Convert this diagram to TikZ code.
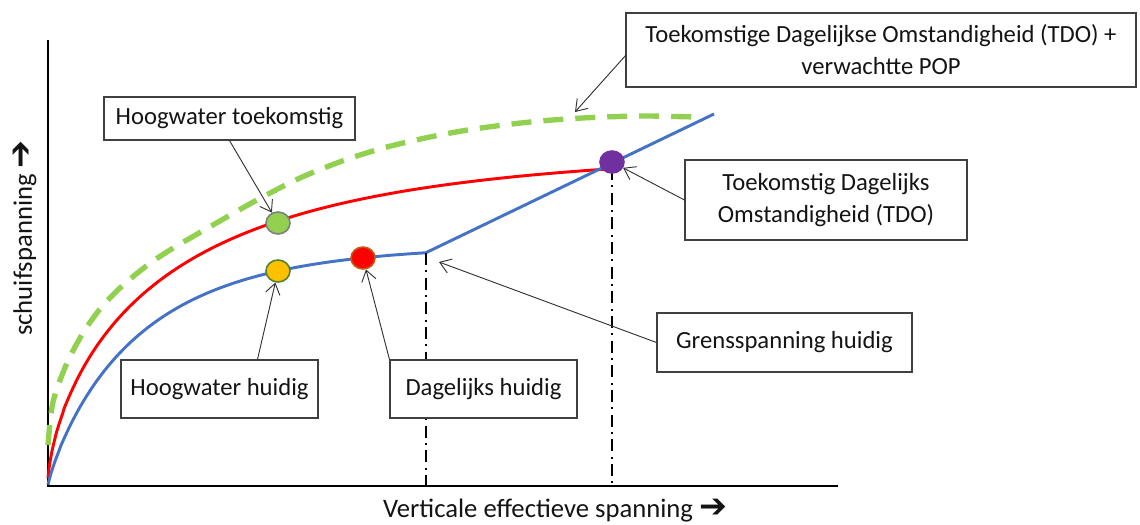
\documentclass[tikz,border=0pt]{standalone}
\usepackage{fontspec}
\setmainfont{Carlito}
\newfontfamily\dv{DejaVu Sans}
\usetikzlibrary{arrows.meta,shapes.geometric,calc}
\definecolor{cblue}{RGB}{68,114,196}
\definecolor{cred}{RGB}{255,0,0}
\definecolor{cgreen}{RGB}{146,208,80}
\definecolor{cyellow}{RGB}{255,192,0}
\definecolor{cpurple}{RGB}{112,48,160}
\definecolor{cdkgreen}{RGB}{84,130,53}
\definecolor{cbrown}{RGB}{197,90,17}
\definecolor{cgray}{RGB}{127,127,127}
\definecolor{ctext}{RGB}{20,20,20}
\begin{document}
\begin{tikzpicture}[x=0.75pt,y=-0.75pt,
  lbl/.style={draw=black!75,line width=0.8pt,fill=white,text=ctext,align=center,
    font=\fontsize{18.5}{24}\selectfont,inner sep=0pt},
  dotnode/.style={ellipse,minimum width=18pt,minimum height=16.5pt,inner sep=0pt,line width=1.2pt},
  arr/.style={draw=black!80,line width=0.7pt,-{Straight Barb[length=8pt,width=11pt,line width=0.7pt]}},
  dashdot/.style={black,line width=1.5pt,dash pattern=on 9pt off 4pt on 1.5pt off 4pt},
  curve/.style={line width=2.2pt}]
\useasboundingbox (0,0) rectangle (1140,525);
% axes
\coordinate (ytop) at (48,40);
\coordinate (orig) at (48,486);
\coordinate (xend) at (838,486);
\draw[black,line width=2pt] (ytop) -- (orig) -- (xend);
% green dashed curve
\draw[cgreen,line width=4pt,dash pattern=on 15pt off 9pt]
  plot[smooth,tension=0.5] coordinates {(48,445) (53,402) (67,363) (83,333) (100,309) (120,288) (145,267) (170,250) (213,225) (257,200) (300,178) (345,160) (387,147) (430,137) (474,129) (530,122) (582,118) (640,116) (695,117)};
% red curve
\draw[cred,curve] plot[domain=0.3:23.75,samples=140,variable=\s]
  ({48+\s*\s},{480-330*(1-exp(-((\s*\s)/124.3)^0.697))});
% blue curve
\coordinate (brk) at (426,253);
\coordinate (bend) at (714,114);
\draw[cblue,curve] plot[domain=0.3:19.44,samples=120,variable=\s]
  ({48+\s*\s},{485-240*(1-exp(-((\s*\s)/92.7)^0.878))}) -- (bend);
% dash-dot lines
\coordinate (brkb) at (426,485);
\coordinate (ptop) at (612,168);
\coordinate (pbot) at (612,485);
\draw[dashdot] (brk) -- (brkb);
\draw[dashdot] (ptop) -- (pbot);
% dots
\node[dotnode,fill=cgreen,draw=cgray] (gdot) at (278,223) {};
\node[dotnode,fill=cyellow,draw=cdkgreen] (ydot) at (278,271) {};
\node[dotnode,fill=cred,draw=cbrown] (rdot) at (363,258) {};
\node[dotnode,fill=cpurple,draw=cpurple] (pdot) at (612,162) {};
% boxes
\node[lbl,minimum width=382.5pt,minimum height=55.5pt] (b1) at (881,50) {Toekomstige Dagelijkse Omstandigheid (TDO) +\\verwachtte POP};
\node[lbl,minimum width=188.25pt,minimum height=32.25pt] (b2) at (229.5,118.5) {Hoogwater toekomstig};
\node[lbl,minimum width=211.5pt,minimum height=60pt] (b3) at (826,200) {Toekomstig Dagelijks\\Omstandigheid (TDO)};
\node[lbl,minimum width=191.25pt,minimum height=44.25pt] (b4) at (784.5,342.5) {Grensspanning huidig};
\node[lbl,minimum width=147.75pt,minimum height=43.5pt] (b5) at (219.5,389) {Hoogwater huidig};
\node[lbl,minimum width=140.25pt,minimum height=43.5pt] (b6) at (483.5,389) {Dagelijks huidig};
% arrows
\coordinate (poptip) at (575,112);
\coordinate (b1s) at (626,55);
\coordinate (gtip) at (439,262);
\draw[arr] (b1s) -- (poptip);
\draw[arr] (b2.south) -- (gdot);
\draw[arr] (b3.west) -- (pdot);
\draw[arr] (b4.west) -- (gtip);
\draw[arr] ($(b5.north)+(38,0)$) -- (ydot);
\draw[arr] (b6.north west) -- (rdot);
% axis labels
\node[rotate=90,text=ctext,font=\fontsize{20}{24}\selectfont] (ylab) at (25,238) {schuifspanning {\dv\fontsize{25}{26}\selectfont ➔}};
\node[text=ctext,font=\fontsize{20}{24}\selectfont] (xlab) at (555,511) {Verticale effectieve spanning {\dv\fontsize{25}{26}\selectfont ➔}};
\end{tikzpicture}
\end{document}
